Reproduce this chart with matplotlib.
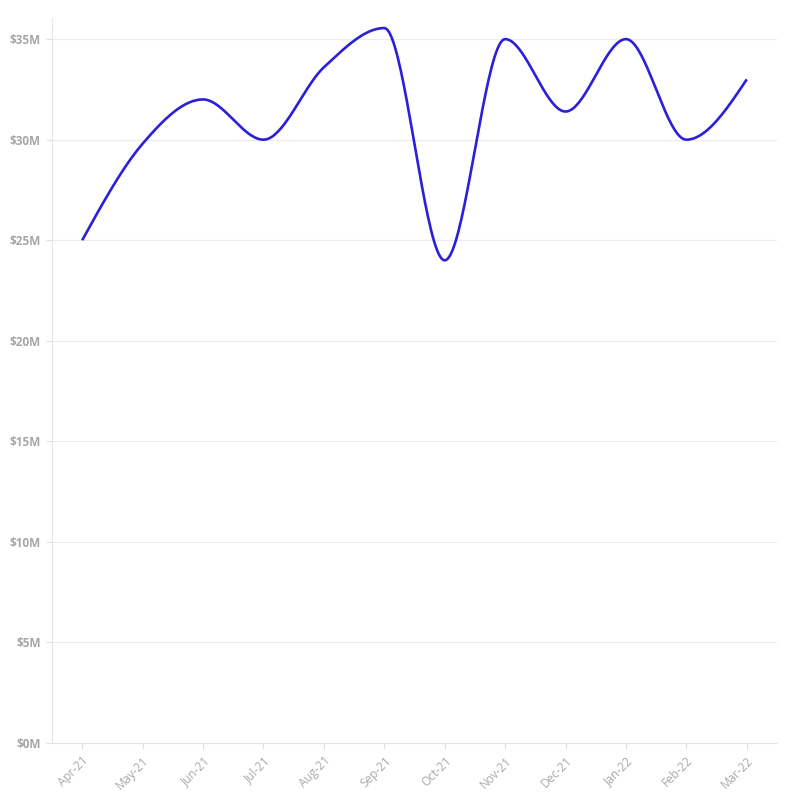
import numpy as np
import matplotlib
matplotlib.use('Agg')
import matplotlib.pyplot as plt
from matplotlib.ticker import FuncFormatter

plt.rcParams['font.family'] = ['Lato', 'DejaVu Sans']

# data
months = ['Apr-21', 'May-21', 'Jun-21', 'Jul-21', 'Aug-21', 'Sep-21',
          'Oct-21', 'Nov-21', 'Dec-21', 'Jan-22', 'Feb-22', 'Mar-22']
revenue = [25.0, 29.8, 32.0, 30.0, 33.6, 35.55, 24.0, 35.0, 31.4, 35.0, 30.0, 33.0]  # $M
yticks = [0, 5, 10, 15, 20, 25, 30, 35]


def monotone_x(x, y, n=40):
    """d3 curveMonotoneX style interpolation"""
    x = np.asarray(x, float)
    y = np.asarray(y, float)
    h = np.diff(x)
    s = np.diff(y) / h
    m = np.zeros_like(y)
    for i in range(1, len(y) - 1):
        if s[i - 1] * s[i] <= 0:
            m[i] = 0
        else:
            p = (s[i - 1] * h[i] + s[i] * h[i - 1]) / (h[i - 1] + h[i])
            m[i] = (np.sign(s[i - 1]) + np.sign(s[i])) * min(abs(s[i - 1]), abs(s[i]), 0.5 * abs(p))
    m[0] = (3 * s[0] - m[1]) / 2 if len(y) > 2 else s[0]
    m[-1] = (3 * s[-1] - m[-2]) / 2 if len(y) > 2 else s[-1]
    xs, ys = [], []
    for i in range(len(x) - 1):
        t = np.linspace(0, 1, n, endpoint=(i == len(x) - 2))
        h00 = 2 * t**3 - 3 * t**2 + 1
        h10 = t**3 - 2 * t**2 + t
        h01 = -2 * t**3 + 3 * t**2
        h11 = t**3 - t**2
        xs.append(x[i] + t * h[i])
        ys.append(h00 * y[i] + h10 * h[i] * m[i] + h01 * y[i + 1] + h11 * h[i] * m[i + 1])
    return np.concatenate(xs), np.concatenate(ys)


fig = plt.figure(figsize=(7.96, 8.01), dpi=100)
ax = fig.add_axes([52 / 796, 1 - 743 / 801, (777 - 52) / 796, (743 - 18) / 801])

xi = np.arange(len(months))
sx, sy = monotone_x(xi, revenue)
ax.plot(sx, sy, color='#2b20d8', lw=1.9, solid_capstyle='butt', zorder=3)

ax.set_xlim(-0.5, len(months) - 0.5)
ax.set_ylim(0, 36.05)
ax.set_yticks(yticks)
ax.yaxis.set_major_formatter(FuncFormatter(lambda v, p: f'${v:.0f}M'))
ax.set_xticks(xi)
ax.set_xticklabels(months, rotation=45, ha='right', rotation_mode='anchor')

ax.grid(axis='y', color='#ebebeb', lw=0.8)
ax.set_axisbelow(True)
for side in ['top', 'right']:
    ax.spines[side].set_visible(False)
for side in ['left', 'bottom']:
    ax.spines[side].set_color('#e6e6e6')
    ax.spines[side].set_linewidth(0.8)

ax.tick_params(axis='y', length=4, color='#e0e0e0', pad=4)
ax.tick_params(axis='x', length=4, color='#e0e0e0', pad=4)
for lab in ax.get_yticklabels():
    lab.set_family(['Open Sans', 'DejaVu Sans'])
    lab.set_fontweight('bold')
    lab.set_fontsize(8.5)
    lab.set_color('#a6a6a6')
for lab in ax.get_xticklabels():
    lab.set_family(['Open Sans', 'DejaVu Sans'])
    lab.set_fontsize(8.5)
    lab.set_color('#a8a8a8')

plt.savefig('out.png', dpi=100)
